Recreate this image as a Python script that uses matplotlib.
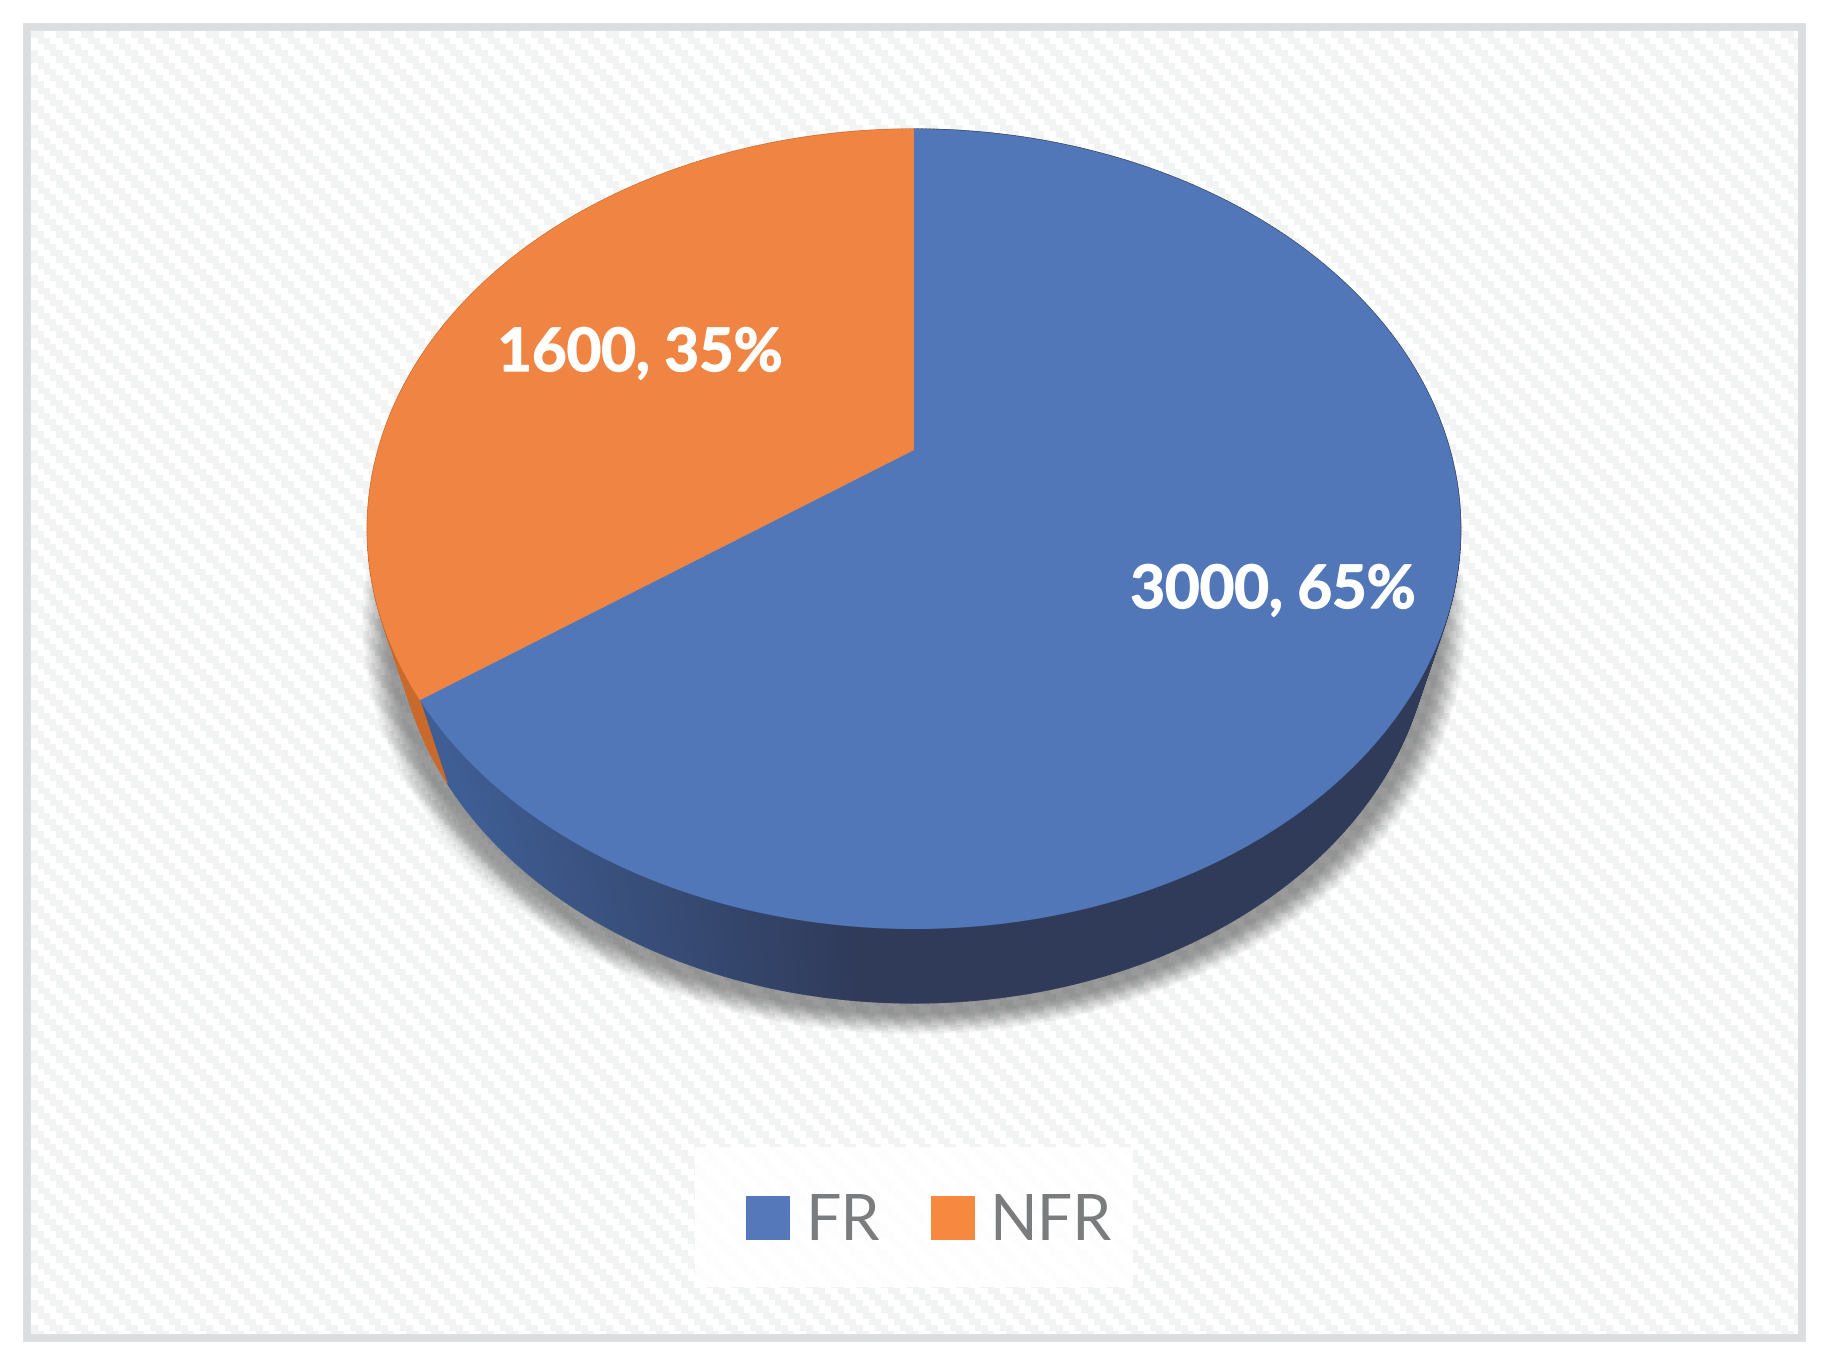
import numpy as np
import matplotlib
matplotlib.use("Agg")
import matplotlib.pyplot as plt
import matplotlib.patheffects as pe
from matplotlib.patches import Rectangle, Patch
from matplotlib.collections import PolyCollection
from matplotlib.colors import to_rgb

categories = ["FR", "NFR"]
values = [3000, 1600]
top_colors = ["#5177b8", "#f08442"]
legend_colors = ["#5578bb", "#f78840"]

W, H = 1833, 1370
fig = plt.figure(figsize=(W / 100, H / 100), dpi=100, facecolor="white")
ax = fig.add_axes([0, 0, 1, 1])
ax.set_xlim(0, W)
ax.set_ylim(H, 0)
ax.axis("off")

# ---------- background ----------
fx0, fy0, fx1, fy1 = 31, 31, 1799, 1334
yy, xx = np.mgrid[fy0:fy1, fx0:fx1]
rows = np.floor((yy - fy0) / 6.25)
mask = ((xx - fx0 - rows * 6.25) % 25) < 12.5
img = np.ones(mask.shape + (3,))
img[mask] = to_rgb("#f2f4f4")
ax.imshow(img, extent=(fx0, fx1, fy1, fy0), interpolation="nearest", aspect="auto", zorder=0)
ax.set_xlim(0, W)
ax.set_ylim(H, 0)
ax.add_patch(Rectangle((27.5, 27), 1775, 1310.5, fill=False, ec="#dcddde", lw=5.6, zorder=1))

# ---------- projected pie ----------
cx = 914
k = 0.1975


def project(theta, apex_y, a, b):
    u, v = np.sin(theta), np.cos(theta)
    w = 1 + k * v
    return cx + a * u / w, apex_y - b * v / w


def top(theta):
    return project(theta, 450, 536, 384.4)


def low(theta):
    return project(theta, 542, 506.5, 370)


total = sum(values)
fractions = [v / total for v in values]
edges = np.concatenate([[0], np.cumsum(fractions)]) * 2 * np.pi

# soft shadow: plateau near the rim, fading outwards
theta_all = np.linspace(0, 2 * np.pi, 361)
lx, ly = low(theta_all)
layers = 36
layer_alpha = 1 - (1 - 0.33) ** (1 / layers)
ecx, ecy = 914, 618
for g in np.linspace(1, 0, layers):
    grow = 10 + 26 * g
    sx = 1 + grow / 517
    sy = 1 + (grow * 0.8) / 385
    ax.fill(ecx + (lx - ecx) * sx, ecy + 3 + (ly - ecy) * sy, color="black", alpha=layer_alpha, lw=0, zorder=2)

# side wall
blue_light, blue_dark = np.array(to_rgb("#3f5e95")), np.array(to_rgb("#303b5a"))
orange_side = np.array(to_rgb("#c9692c"))
polys, cols = [], []
for i in range(len(values)):
    th = np.linspace(edges[i], edges[i + 1], int(np.degrees(edges[i + 1] - edges[i])) * 2 + 2)
    for t0, t1 in zip(th[:-1], th[1:]):
        x0, y0 = top(t0)
        x1, y1 = top(t1)
        x2, y2 = low(t1)
        x3, y3 = low(t0)
        polys.append([(x0, y0), (x1, y1), (x2, y2), (x3, y3)])
        if i == 0:
            f = np.clip((x3 - 470) / (860 - 470), 0, 1)
            cols.append(blue_light * (1 - f) + blue_dark * f)
        else:
            cols.append(orange_side)
ax.add_collection(PolyCollection(polys, facecolors=cols, edgecolors=cols, linewidths=0.8, zorder=3))

# top surface
for i in range(len(values)):
    th = np.linspace(edges[i], edges[i + 1], 400)
    x, y = top(th)
    ax.fill(np.r_[cx, x], np.r_[450, y], color=top_colors[i], lw=0, zorder=4)

# ---------- labels ----------
label_anchor = [(1273, 608), (640, 371)]
for v, f, (tx, ty) in zip(values, fractions, label_anchor):
    ax.text(tx, ty, f"{v}, {round(f * 100)}%", color="white", fontsize=43, fontweight="bold",
            family="Lato", ha="center", va="baseline", zorder=6,
            path_effects=[pe.withStroke(linewidth=1.0, foreground="white")])

# ---------- legend ----------
ax.add_patch(Rectangle((695, 1147), 438, 140, fc="white", ec="none", alpha=0.85, zorder=4.5))
handles = [Patch(facecolor=c, edgecolor="none") for c in legend_colors]
leg = ax.legend(handles, categories, loc="center", bbox_to_anchor=(929, 1222),
                bbox_transform=ax.transData, ncol=2, frameon=False, borderaxespad=0,
                prop={"family": "Lato", "size": 45}, labelcolor="#7b7c7d",
                handlelength=0.704, handleheight=0.704, handletextpad=0.24,
                columnspacing=0.82, borderpad=0)
leg.set_zorder(5)

fig.savefig("out.png", dpi=100, facecolor="white")
